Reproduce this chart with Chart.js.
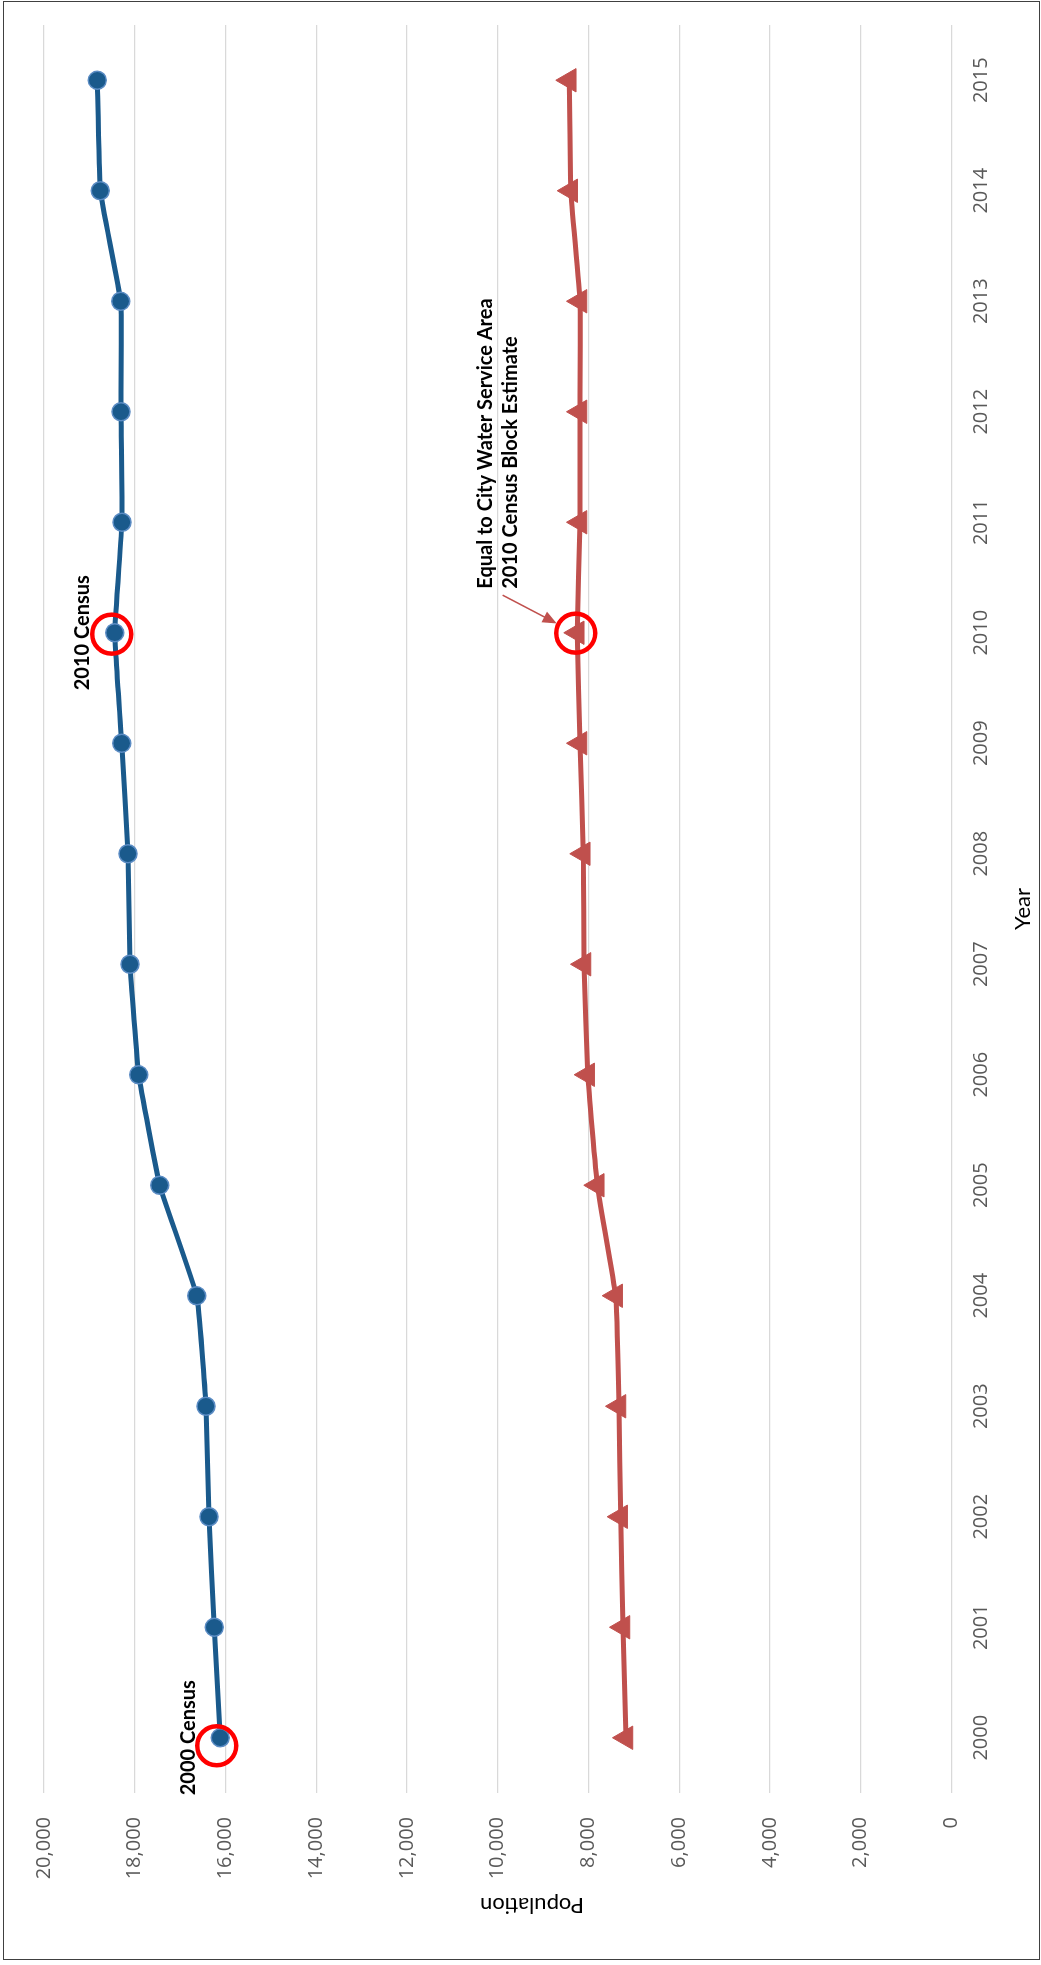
<!DOCTYPE html>
<html>
<head>
<meta charset="utf-8">
<script src="https://cdn.jsdelivr.net/npm/chart.js@4.4.1/dist/chart.umd.min.js"></script>
<style>
html, body { margin:0; padding:0; background:#fff; overflow:hidden; }
#wrap { position:relative; width:1041px; height:1965px; }
/* el grafico se dibuja apaisado y se gira 90 grados */
#graficoPoblacion { position:absolute; left:0; top:0; transform-origin:0 0; transform:translateY(1965px) rotate(-90deg); }
#marco { position:absolute; left:3px; top:1px; width:1037px; height:1959px; box-sizing:border-box; border:1.5px solid #404040; pointer-events:none; }
</style>
</head>
<body>
<div id="wrap">
  <canvas id="graficoPoblacion" width="1965" height="1041"></canvas>
  <div id="marco"></div>
</div>
<script>
// Poblacion por año
const years = ['2000', '2001', '2002', '2003', '2004', '2005', '2006', '2007',
               '2008', '2009', '2010', '2011', '2012', '2013', '2014', '2015'];

const poblacionCiudad = [16115, 16247, 16364, 16430, 16635, 17450, 17913, 18105,
                         18149, 18288, 18442, 18281, 18303, 18310, 18760, 18825];

const poblacionServicio = [7174, 7240, 7291, 7328, 7401, 7806, 8018, 8099,
                           8115, 8187, 8247, 8187, 8187, 8187, 8392, 8423];

const yMin = 0;
const yMax = 20000;
const yStep = 2000;

// notas, circulos y flecha encima de las lineas
const notas = {
    id: 'notas',
    afterDatasetsDraw(chart) {
        const ctx = chart.ctx;
        const sx = chart.scales.x, sy = chart.scales.y;
        const i00 = years.indexOf('2000');
        const i10 = years.indexOf('2010');
        const b00 = { u: sx.getPixelForValue(i00), v: sy.getPixelForValue(poblacionCiudad[i00]) };
        const b10 = { u: sx.getPixelForValue(i10), v: sy.getPixelForValue(poblacionCiudad[i10]) };
        const r10 = { u: sx.getPixelForValue(i10), v: sy.getPixelForValue(poblacionServicio[i10]) };

        ctx.save();
        ctx.strokeStyle = '#FF0000';
        ctx.lineWidth = 4.5;
        [[b00.u - 8, b00.v - 3.6], [b10.u - 1.4, b10.v - 3], [r10.u - 0.4, r10.v - 1.6]].forEach(c => {
            ctx.beginPath();
            ctx.arc(c[0], c[1], 19.5, 0, Math.PI * 2);
            ctx.stroke();
        });

        ctx.fillStyle = '#000';
        ctx.font = 'bold 20px Lato';
        ctx.textAlign = 'center';
        ctx.textBaseline = 'alphabetic';
        ctx.fillText('2000 Census', b00.u, b00.v - 25);
        ctx.fillText('2010 Census', b10.u, b10.v - 26);

        ctx.textAlign = 'left';
        ctx.fillText('Equal to City Water Service Area', r10.u + 44, r10.v - 85);
        ctx.fillText('2010 Census Block Estimate', r10.u + 44, r10.v - 60);

        // flecha
        const a = { u: r10.u + 37.6, v: r10.v - 74.6 };
        const b = { u: r10.u + 9.3, v: r10.v - 20.6 };
        const ang = Math.atan2(b.v - a.v, b.u - a.u);
        ctx.strokeStyle = '#C0504D';
        ctx.fillStyle = '#C0504D';
        ctx.lineWidth = 1.5;
        ctx.beginPath();
        ctx.moveTo(a.u, a.v);
        ctx.lineTo(b.u - Math.cos(ang) * 10, b.v - Math.sin(ang) * 10);
        ctx.stroke();
        ctx.beginPath();
        ctx.moveTo(b.u, b.v);
        ctx.lineTo(b.u - Math.cos(ang) * 14 - Math.sin(ang) * 6, b.v - Math.sin(ang) * 14 + Math.cos(ang) * 6);
        ctx.lineTo(b.u - Math.cos(ang) * 14 + Math.sin(ang) * 6, b.v - Math.sin(ang) * 14 - Math.cos(ang) * 6);
        ctx.closePath();
        ctx.fill();

        // titulos de ejes
        ctx.fillStyle = '#000';
        ctx.font = '22px Lato';
        ctx.textAlign = 'center';
        ctx.fillText('Year', (chart.chartArea.left + chart.chartArea.right) / 2, 1030);
        ctx.translate(67, 532);
        ctx.rotate(-Math.PI / 2);
        ctx.fillText('Population', 0, 0);
        ctx.restore();
    }
};

let lienzo = document.getElementById('graficoPoblacion').getContext('2d');

var chart = new Chart(lienzo, {
    type: 'line',
    data: {
        labels: years,
        datasets: [
            {
                label: 'Ciudad',
                data: poblacionCiudad,
                borderColor: '#1A5A8C',
                borderWidth: 5,
                tension: 0.1,
                pointStyle: 'circle',
                pointRadius: 9,
                pointBackgroundColor: '#1A5A8C',
                pointBorderColor: '#5B8CC4',
                pointBorderWidth: 1.5
            },
            {
                label: 'Area de servicio',
                data: poblacionServicio,
                borderColor: '#C0504D',
                borderWidth: 5,
                tension: 0.1,
                pointStyle: 'triangle',
                pointRadius: 13.5,
                pointBackgroundColor: '#C0504D',
                pointBorderColor: '#C0504D',
                pointBorderWidth: 1
            }
        ]
    },
    options: {
        responsive: false,
        animation: false,
        devicePixelRatio: 1,
        layout: { padding: { left: 0, right: 25, top: 44, bottom: 0 } },
        plugins: {
            legend: { display: false },
            tooltip: { enabled: false }
        },
        scales: {
            x: {
                offset: true,
                grid: { display: false, drawTicks: false },
                border: { display: false },
                ticks: {
                    color: '#595959',
                    font: { family: 'Open Sans', size: 20 },
                    padding: 18,
                    maxRotation: 0,
                    autoSkip: false
                },
                afterFit(s) { s.height = 89.5; }
            },
            y: {
                min: yMin,
                max: yMax,
                grid: { color: '#D9D9D9', lineWidth: 1.3, drawTicks: false },
                border: { display: false },
                ticks: {
                    stepSize: yStep,
                    color: '#595959',
                    font: { family: 'Open Sans', size: 20 },
                    padding: 24,
                    callback: v => v.toLocaleString('en-US')
                },
                afterFit(s) { s.width = 172; }
            }
        }
    },
    plugins: [notas]
});
</script>
</body>
</html>
